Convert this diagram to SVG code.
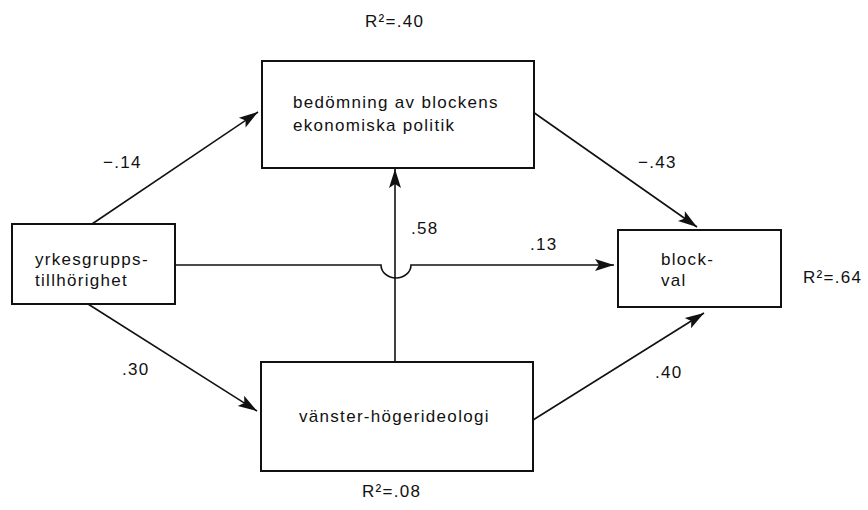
<svg xmlns="http://www.w3.org/2000/svg" width="868" height="510" viewBox="0 0 868 510">
<defs>
<marker id="ah" viewBox="-20 -7 21 14" refX="0" refY="0" markerWidth="21" markerHeight="14" markerUnits="userSpaceOnUse" orient="auto">
<path d="M0,0 L-19,-6 L-15,0 L-19,6 Z" fill="#111"/>
</marker>
</defs>
<style>
.box{fill:#fff;stroke:#111;stroke-width:2}
.t{font-family:"Liberation Sans",Arial,sans-serif;font-size:17px;letter-spacing:1.3px;fill:#111}
.c{fill:none;stroke:#111;stroke-width:1.6}
</style>
<rect width="868" height="510" fill="#fff"/>
<g id="connectors">
<path class="c" d="M92,224 L258,112" marker-end="url(#ah)"/>
<path class="c" d="M533,112 L697,227" marker-end="url(#ah)"/>
<path class="c" d="M175,265 H381 A15,13 0 0 0 411,265 H614" marker-end="url(#ah)"/>
<path class="c" d="M395,362 V169" marker-end="url(#ah)"/>
<path class="c" d="M88,304 L257,411" marker-end="url(#ah)"/>
<path class="c" d="M533,420 L704,313" marker-end="url(#ah)"/>
</g>
<g id="labels">
<text class="t" x="103" y="168">−.14</text>
<text class="t" x="638" y="168">−.43</text>
<text class="t" x="411" y="234">.58</text>
<text class="t" x="530" y="250">.13</text>
<text class="t" x="122" y="375">.30</text>
<text class="t" x="655" y="378">.40</text>
<text class="t" x="365" y="27">R²=.40</text>
<text class="t" x="803" y="283">R²=.64</text>
<text class="t" x="362" y="497">R²=.08</text>
</g>
<g id="yrkesgrupp">
<rect class="box" x="12" y="224" width="163" height="80"/>
<text class="t" x="35" y="265">yrkesgrupps-</text>
<text class="t" x="35" y="286">tillhörighet</text>
</g>
<g id="bedomning">
<rect class="box" x="262" y="61" width="272" height="107"/>
<text class="t" x="293" y="108">bedömning av blockens</text>
<text class="t" x="293" y="131">ekonomiska politik</text>
</g>
<g id="blockval">
<rect class="box" x="618" y="230" width="163" height="77"/>
<text class="t" x="661" y="265">block-</text>
<text class="t" x="661" y="286">val</text>
</g>
<g id="ideologi">
<rect class="box" x="261" y="362" width="272" height="109"/>
<text class="t" x="299" y="422">vänster-högerideologi</text>
</g>
</svg>
